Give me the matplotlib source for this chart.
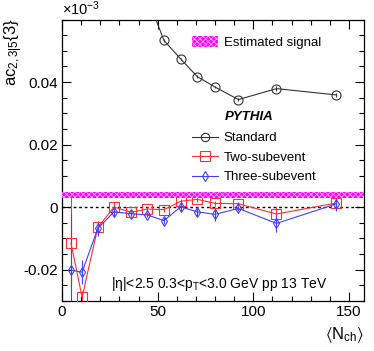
import matplotlib
matplotlib.use("Agg")
import matplotlib.pyplot as plt
from matplotlib.ticker import MultipleLocator, FixedLocator, FixedFormatter
from matplotlib.patches import Patch
from matplotlib.lines import Line2D

plt.rcParams['font.family'] = ['Liberation Sans', 'DejaVu Sans']
plt.rcParams['mathtext.fontset'] = 'custom'
plt.rcParams['mathtext.rm'] = 'Liberation Sans'
plt.rcParams['mathtext.it'] = 'Liberation Sans:italic'
plt.rcParams['mathtext.bf'] = 'Liberation Sans:bold'
plt.rcParams['mathtext.fallback'] = 'stixsans'
plt.rcParams['hatch.linewidth'] = 0.6

# ---- data (values in units of 1e-3 shown on axis) ----
std_x = [44.6, 53.3, 62.0, 70.8, 80.0, 92.2, 112.1, 143.1]
std_y = [0.067, 0.0533, 0.0474, 0.0417, 0.0384, 0.0344, 0.0379, 0.0359]
std_err = [0.0005, 0.0004, 0.0004, 0.0004, 0.0004, 0.0005, 0.0009, 0.0006]

two_x = [4.7, 10.5, 18.7, 27.2, 36.3, 44.6, 53.3, 62.0, 70.8, 80.0, 92.2, 112.1, 143.1]
two_y = [-0.0115, -0.0288, -0.0065, 0.0000, -0.0016, -0.0006, -0.0008, 0.0019, 0.0025, 0.0012, 0.0011, -0.0022, 0.0013]
two_err = [0.0148, 0.0020, 0.0010, 0.0015, 0.0006, 0.0006, 0.0006, 0.0008, 0.0008, 0.0008, 0.0006, 0.0022, 0.0010]

three_x = [4.7, 10.5, 18.7, 27.2, 36.3, 44.6, 53.3, 62.0, 70.8, 80.0, 92.2, 112.1, 143.1]
three_y = [-0.0201, -0.0208, -0.0068, -0.0015, -0.0021, -0.0025, -0.0043, 0.0001, -0.0015, -0.0023, -0.0004, -0.0052, 0.0010]
three_err = [0.0180, 0.0038, 0.0024, 0.0015, 0.0008, 0.0008, 0.0010, 0.0012, 0.0013, 0.0020, 0.0007, 0.0028, 0.0023]

signal_center = 0.004
signal_halfwidth = 0.001

xticks = [0, 50, 100, 150]
xticklabels = ['0', '50', '100', '150']
yticks = [-0.02, 0.0, 0.02, 0.04]
yticklabels = ['-0.02', '0', '0.02', '0.04']

W, H = 374, 351
fig = plt.figure(figsize=(W / 100, H / 100), dpi=100)
L, R, T, B = 62, 364.3, 19.5, 301
ax = fig.add_axes([L / W, 1 - B / H, (R - L) / W, (B - T) / H])

ax.set_xlim(0, 158)
ax.set_ylim(-0.03, 0.06)

# estimated signal band
ax.axhspan(signal_center - signal_halfwidth, signal_center + signal_halfwidth,
           facecolor='#ff00ff', edgecolor='#ffb0ff', hatch='xxxxxx', lw=0, zorder=4)

ax.axhline(0, color='black', lw=1.0, ls=(0, (2, 2)), zorder=2)

ax.errorbar(std_x, std_y, yerr=std_err, color='#333333', lw=0.8, marker='o', ms=6.5,
            mfc='none', mec='#333333', mew=0.8, zorder=3)
ax.errorbar(two_x, two_y, yerr=two_err, color='#ff3030', lw=0.8, marker='s', ms=7,
            mfc='none', mec='#ff3030', mew=0.8, zorder=3)
ax.errorbar(three_x, three_y, yerr=three_err, color='#4040ff', lw=0.8, marker='d', ms=5,
            mfc='none', mec='#4040ff', mew=0.8, zorder=3)

ax.xaxis.set_major_locator(FixedLocator(xticks))
ax.xaxis.set_major_formatter(FixedFormatter(xticklabels))
ax.xaxis.set_minor_locator(MultipleLocator(10))
ax.yaxis.set_major_locator(FixedLocator(yticks))
ax.yaxis.set_major_formatter(FixedFormatter(yticklabels))
ax.yaxis.set_minor_locator(MultipleLocator(0.005))
ax.tick_params(which='both', direction='in', top=True, right=True, labelsize=11, width=0.8)
ax.tick_params(which='major', length=6.5, pad=3)
ax.tick_params(which='minor', length=3.6)
for s in ax.spines.values():
    s.set_linewidth(0.9)

# legends
h_sig = Patch(facecolor='#ff00ff', edgecolor='#ffb0ff', hatch='xxxxxx', lw=0)
leg1 = ax.legend([h_sig], ['Estimated signal'], loc='upper left', bbox_to_anchor=(0.43, 0.94),
                 frameon=False, fontsize=9.5, handlelength=2.0, handleheight=0.85,
                 handletextpad=0.4, borderpad=0, borderaxespad=0)
ax.add_artist(leg1)

hs = [Line2D([], [], color='#333333', lw=0.8, marker='o', ms=6, mfc='none', mew=0.8),
      Line2D([], [], color='#ff3030', lw=0.8, marker='s', ms=6.5, mfc='none', mew=0.8),
      Line2D([], [], color='#4040ff', lw=0.8, marker='d', ms=5, mfc='none', mew=0.8)]
ax.legend(hs, ['Standard', 'Two-subevent', 'Three-subevent'], loc='upper left',
          bbox_to_anchor=(0.43, 0.6), frameon=False, fontsize=9.5, handlelength=2.0,
          handletextpad=0.4, labelspacing=0.55, borderpad=0, borderaxespad=0)

ax.text(0.538, 0.655, 'PYTHIA', transform=ax.transAxes, fontsize=9.5,
        fontweight='bold', fontstyle='italic', ha='left', va='center')

ax.text(25.5, -0.0247, r'|η|<2.5 0.3<p$_\mathregular{T}$<3.0 GeV pp 13 TeV', fontsize=10,
        ha='left', va='center')

fig.text(62 / W, 1 - 15 / H, r'×10$^\mathregular{-3}$', fontsize=10.5, ha='left', va='baseline')
fig.text(14 / W, 1 - 18 / H, r'ac$_\mathregular{2,3|5}${3}', fontsize=12, rotation=90,
         ha='center', va='top')
fig.text(364 / W, 1 - 335 / H, r'$\langle$N$_\mathregular{ch}$$\rangle$', fontsize=12,
         ha='right', va='center')

fig.savefig('out.png', dpi=100)
